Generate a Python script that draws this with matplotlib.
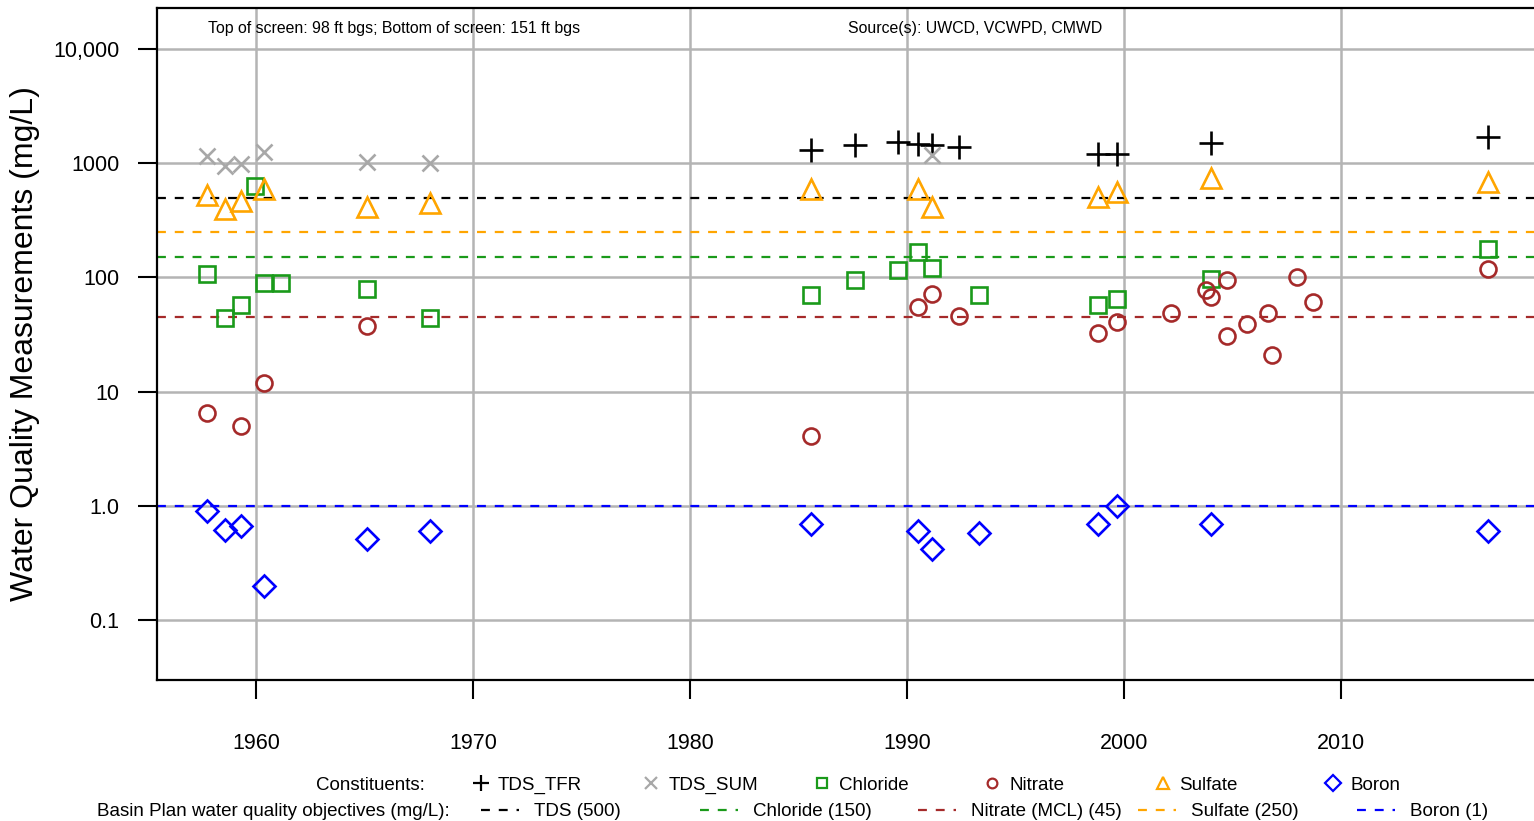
import matplotlib
matplotlib.use('Agg')
import matplotlib.pyplot as plt
import numpy as np

plt.rcParams['font.family'] = ['Liberation Sans', 'DejaVu Sans']

# data (decimal year, mg/L)
tfr_year = [1985.6, 1987.6, 1989.6, 1990.52, 1991.17, 1992.4, 1998.8, 1999.66, 2004.0, 2016.76]
tfr_val = [1306, 1445, 1545, 1473, 1445, 1380, 1205, 1205, 1495, 1708]

sum_year = [1957.74, 1958.56, 1959.32, 1960.35, 1965.12, 1968.0, 1991.17]
sum_val = [1157, 946, 979, 1262, 1032, 1000, 1181]

cl_year = [1957.74, 1958.56, 1959.32, 1959.94, 1960.35, 1961.15, 1965.12, 1968.0,
           1985.6, 1987.6, 1989.6, 1990.52, 1991.17, 1993.33, 1998.8, 1999.66, 2004.0, 2016.76]
cl_val = [107, 44, 58, 636, 90, 90, 80, 44,
          70, 95, 116, 168, 120, 70, 57, 65, 97, 177]

no3_year = [1957.74, 1959.32, 1960.35, 1965.12, 1985.6, 1990.52, 1991.17, 1992.4, 1998.8, 1999.66,
            2002.15, 2003.78, 2004.0, 2004.76, 2004.76, 2005.65, 2006.65, 2006.81, 2007.99, 2008.72, 2016.76]
no3_val = [6.5, 5.0, 12, 38, 4.1, 55, 71, 46, 33, 41,
           49, 78, 68, 96, 31, 39, 49, 21, 100, 61, 119]

so4_year = [1957.74, 1958.56, 1959.32, 1960.35, 1965.12, 1968.0, 1985.6, 1990.52, 1991.17,
            1998.8, 1999.66, 2004.0, 2016.76]
so4_val = [527, 395, 467, 592, 411, 446, 592, 592, 417, 510, 564, 738, 690]

b_year = [1957.74, 1958.56, 1959.32, 1960.35, 1965.12, 1968.0, 1985.6, 1990.52, 1991.17,
          1993.33, 1998.8, 1999.66, 2004.0, 2016.76]
b_val = [0.90, 0.62, 0.67, 0.20, 0.51, 0.60, 0.70, 0.60, 0.42, 0.58, 0.70, 1.0, 0.70, 0.60]

# objectives
obj_names = ['TDS (500)', 'Chloride (150)', 'Nitrate (MCL) (45)', 'Sulfate (250)', 'Boron (1)']
obj_vals = [500, 150, 45, 250, 1]
obj_colors = ['black', '#1a9a1a', '#a52a2a', 'orange', 'blue']

yticks = [0.1, 1, 10, 100, 1000, 10000]
ytick_labels = ['0.1', '1.0', '10', '100', '1000', '10,000']
xticks = [1960, 1970, 1980, 1990, 2000, 2010]

W, H = 1534, 821
fig = plt.figure(figsize=(W / 100, H / 100), dpi=100)
ax_w = 1545 - 157
ax = fig.add_axes([157 / W, (H - 680) / H, ax_w / W, 672 / H])
ax.set_yscale('log')
ax.set_xlim(1955.44, 1955.44 + ax_w / 21.7)
ax.set_ylim(10 ** ((506 - 680) / 114.25), 10 ** ((506 - 8) / 114.25))

ax.set_yticks(yticks)
ax.set_yticklabels(ytick_labels)
ax.yaxis.set_minor_locator(matplotlib.ticker.NullLocator())
ax.set_xticks(xticks)
ax.tick_params(axis='both', length=14, width=1.5, labelsize=15.5, direction='out')
ax.tick_params(axis='x', pad=24)
ax.tick_params(axis='y', pad=13)
ax.grid(True, color='#b4b4b4', lw=1.8, zorder=0)
ax.set_axisbelow(True)
for s in ['left', 'bottom', 'top']:
    ax.spines[s].set_linewidth(1.6)
ax.spines['right'].set_visible(False)
ax.set_ylabel('Water Quality Measurements (mg/L)', fontsize=23)
ax.yaxis.set_label_coords(-(157 - 40) / ax_w, 0.5)

for v, c in zip(obj_vals, obj_colors):
    ax.axhline(v, color=c, ls=(0, (4, 4)), lw=1.6, zorder=2)

mk = dict(ls='none', mfc='none', mew=1.9, zorder=3)
ax.plot(tfr_year, tfr_val, marker='+', color='black', ms=17, **mk)
ax.plot(sum_year, sum_val, marker='x', color='#a8a8a8', ms=12, **mk)
ax.plot(cl_year, cl_val, marker='s', color='#1a9a1a', ms=11, **mk)
ax.plot(no3_year, no3_val, marker='o', color='#a52a2a', ms=11.5, **mk)
ax.plot(so4_year, so4_val, marker='^', color='orange', ms=15, **mk)
ax.plot(b_year, b_val, marker='D', color='blue', ms=11, **mk)

fig.text(208 / W, 1 - 28 / H, 'Top of screen: 98 ft bgs; Bottom of screen: 151 ft bgs', fontsize=11.4,
         ha='left', va='center')
fig.text(975 / W, 1 - 28 / H, 'Source(s): UWCD, VCWPD, CMWD', fontsize=11.4, ha='center', va='center')

# legend rows drawn in pixel coords
leg = fig.add_axes([0, 0, 1, 1], zorder=5)
leg.set_xlim(0, W)
leg.set_ylim(H, 0)
leg.axis('off')
leg.patch.set_alpha(0)

leg.text(425, 785, 'Constituents:', fontsize=13.5, ha='right', va='center')
cons_names = ['TDS_TFR', 'TDS_SUM', 'Chloride', 'Nitrate', 'Sulfate', 'Boron']
cons_markers = ['+', 'x', 's', 'o', '^', 'D']
cons_colors = ['black', '#a8a8a8', '#1a9a1a', '#a52a2a', 'orange', 'blue']
cons_ms = [12, 8, 7, 7, 9, 8]
for i, (n, m, c, s) in enumerate(zip(cons_names, cons_markers, cons_colors, cons_ms)):
    x0 = 481 + i * 170.4
    leg.plot([x0], [783], marker=m, color=c, mfc='none', ms=s, mew=1.6, ls='none')
    leg.text(x0 + 17, 785, n, fontsize=13.5, ha='left', va='center')

leg.text(450, 812, 'Basin Plan water quality objectives (mg/L):', fontsize=13.5, ha='right', va='center')
obj_x = [481, 700, 918, 1138, 1357]
for x0, n, c in zip(obj_x, obj_names, obj_colors):
    leg.plot([x0, x0 + 38], [810, 810], color=c, ls=(0, (4, 4)), lw=1.6)
    leg.text(x0 + 53, 812, n, fontsize=13.5, ha='left', va='center')

fig.savefig('out.png', dpi=100)
